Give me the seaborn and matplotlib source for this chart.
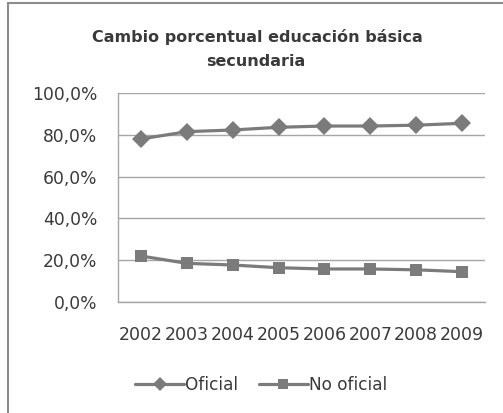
import matplotlib
matplotlib.use("Agg")
import matplotlib.pyplot as plt
from matplotlib.patches import Rectangle
from matplotlib.ticker import FuncFormatter, FixedLocator, NullFormatter
import seaborn as sns
import pandas as pd

years = ["2002", "2003", "2004", "2005", "2006", "2007", "2008", "2009"]
oficial = [78.0, 81.5, 82.3, 83.6, 84.2, 84.2, 84.6, 85.5]
no_oficial = [22.0, 18.5, 17.7, 16.4, 15.8, 15.8, 15.4, 14.5]
series_names = ["Oficial", "No oficial"]

df = pd.DataFrame({
    "Año": years * 2,
    "Porcentaje": oficial + no_oficial,
    "Sector": [series_names[0]] * len(years) + [series_names[1]] * len(years),
})

sns.set_theme(style="white")
plt.rcParams["font.family"] = ["DejaVu Sans"]

W, H = 503, 413
fig = plt.figure(figsize=(W / 100, H / 100), dpi=100)
ax = fig.add_axes([118 / W, 1 - 302 / H, (485 - 118) / W, (302 - 93) / H])

line_col = "#7b7b7b"
grid_col = "#a6a6a6"
text_col = "#3a3a3a"

sns.lineplot(
    data=df, x="Año", y="Porcentaje", hue="Sector", style="Sector",
    markers={"Oficial": "D", "No oficial": "s"}, dashes=False,
    palette={"Oficial": line_col, "No oficial": line_col},
    linewidth=2.3, markersize=9, markeredgewidth=0, ax=ax, legend=True,
)

ax.set_xlim(-0.5, len(years) - 0.5)
ax.set_ylim(0, 100)
ax.set_yticks([0, 20, 40, 60, 80, 100])
ax.yaxis.set_major_formatter(FuncFormatter(lambda v, _: f"{v:.1f}%".replace(".", ",")))
ax.yaxis.grid(True, color=grid_col, linewidth=1)
ax.set_axisbelow(True)

# category labels centred, tick marks on category boundaries
ax.set_xticks(range(len(years)))
ax.set_xticklabels(years)
ax.xaxis.set_minor_locator(FixedLocator([i - 0.5 for i in range(len(years) + 1)]))
ax.xaxis.set_minor_formatter(NullFormatter())
ax.tick_params(axis="x", which="major", length=0, pad=17, labelsize=12.5, colors=text_col)
ax.tick_params(axis="x", which="minor", length=6, width=1, color=grid_col, direction="out")
ax.tick_params(axis="y", length=7, width=1, color=grid_col, direction="out", pad=8,
               labelsize=12.3, colors=text_col)

for side in ["top", "right"]:
    ax.spines[side].set_visible(False)
for side in ["left", "bottom"]:
    ax.spines[side].set_color(grid_col)
    ax.spines[side].set_linewidth(1)

ax.set_xlabel("")
ax.set_ylabel("")

handles, labels = ax.get_legend_handles_labels()
for h in handles:
    h.set_markersize(7)
ax.get_legend().remove()
fig.legend(handles, labels, loc="center", bbox_to_anchor=(261 / W, 1 - 385 / H),
           ncol=2, frameon=False, fontsize=12.2, handlelength=2.9, handletextpad=0.05,
           columnspacing=1.2, labelcolor=text_col)

fig.text(257 / W, 1 - 37 / H, "Cambio porcentual educación básica", ha="center",
         va="center", fontsize=11.5, fontweight="bold", color=text_col)
fig.text(256 / W, 1 - 61 / H, "secundaria", ha="center", va="center",
         fontsize=11.5, fontweight="bold", color=text_col)

# chart frame
fig.patches.append(Rectangle((8 / W, -0.05), 1.1, 1 - 3 / H + 0.05, transform=fig.transFigure,
                             fill=False, edgecolor="#8c8c8c", linewidth=1.5))

fig.savefig("out.png", dpi=100, facecolor="white")
